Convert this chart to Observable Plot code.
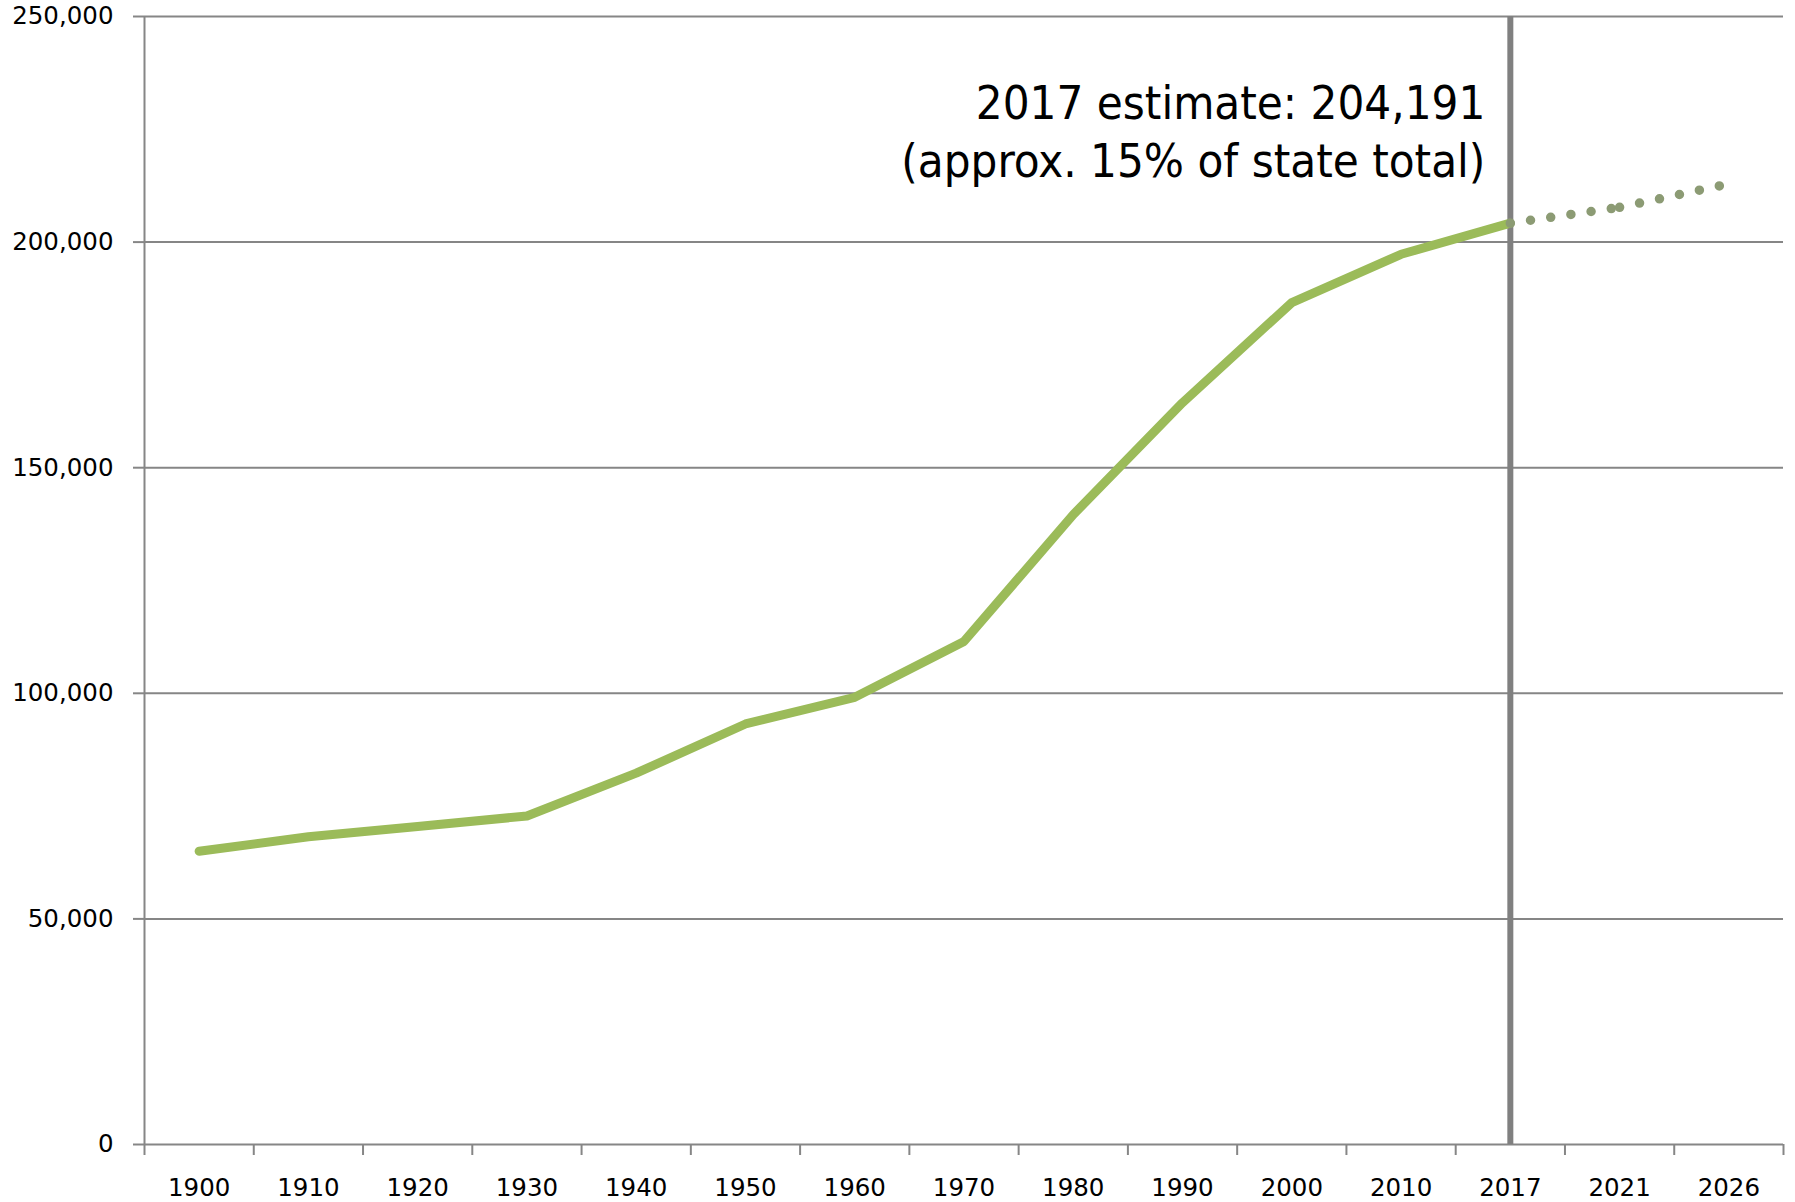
<!DOCTYPE html>
<html>
<head>
<meta charset="utf-8">
<script src="https://cdn.jsdelivr.net/npm/d3@7"></script>
<script src="https://cdn.jsdelivr.net/npm/@observablehq/plot@0.6"></script>
<style>
  html, body { margin: 0; padding: 0; background: #fff; overflow: hidden; }
  #chart svg { display: block; }
</style>
</head>
<body>
<div id="chart"></div>
<script>
// Category labels along the x axis
const years = ["1900","1910","1920","1930","1940","1950","1960","1970","1980","1990","2000","2010","2017","2021","2026"];
// Historical population (1900–2017)
const historicalYears = ["1900","1910","1920","1930","1940","1950","1960","1970","1980","1990","2000","2010","2017"];
const historicalValues = [65000, 68200, 70500, 72800, 82300, 93200, 99100, 111500, 139600, 164400, 186600, 197300, 204191];
// Projection (2017–2026)
const projectionYears = ["2017","2021","2026"];
const projectionValues = [204191, 207700, 212900];
// Y tick values
const yTicks = [0, 50000, 100000, 150000, 200000, 250000];
// Marker year and annotation
const markerYear = "2017";
const annotation = "2017 estimate: 204,191\n(approx. 15% of state total)";

const idx = y => years.indexOf(y);
const historical = historicalYears.map((y, i) => ({x: idx(y), value: historicalValues[i]}));
// Projection drawn segment by segment (dash pattern restarts at each point)
const projection = [];
for (let i = 0; i < projectionYears.length - 1; i++) {
  projection.push({x: idx(projectionYears[i]), value: projectionValues[i], seg: i});
  projection.push({x: idx(projectionYears[i + 1]), value: projectionValues[i + 1], seg: i});
}

const grey = "#868686";
const tickFont = "DejaVu Sans, Verdana, sans-serif";

const chart = Plot.plot({
  width: 1795,
  height: 1202,
  marginLeft: 144,
  marginRight: 12,
  marginTop: 16,
  marginBottom: 58,
  style: {background: "#fff", color: "#000", fontFamily: tickFont},
  x: {type: "linear", domain: [-0.5, years.length - 0.5], label: null},
  y: {domain: [0, 250000], label: null},
  marks: [
    Plot.gridY(yTicks.filter(d => d > 0), {stroke: grey, strokeOpacity: 1, strokeWidth: 2}),
    Plot.axisY({ticks: yTicks, tickSize: 11, tickPadding: 20, tickFormat: d3.format(","), label: null,
      stroke: grey, strokeWidth: 2, fill: "#000", fontSize: 24.5, fontFamily: tickFont}),
    Plot.axisX({ticks: d3.range(-0.5, years.length, 1), tickSize: 11, tickFormat: () => "", label: null,
      stroke: grey, strokeWidth: 2}),
    Plot.axisX({ticks: d3.range(years.length), tickSize: 0, tickPadding: 34, label: null,
      tickFormat: i => years[i], fill: "#000", fontSize: 24.5, fontFamily: tickFont}),
    Plot.ruleX([-0.5], {stroke: grey, strokeWidth: 2}),
    Plot.ruleY([0], {stroke: grey, strokeWidth: 2}),
    Plot.ruleX([idx(markerYear)], {y1: 0, y2: 250000, stroke: "#808080", strokeWidth: 6}),
    Plot.line(historical, {x: "x", y: "value", stroke: "#9BBB59", strokeWidth: 9,
      strokeLinecap: "round", strokeLinejoin: "round"}),
    Plot.line(projection, {x: "x", y: "value", z: "seg", stroke: "#8C9B74", strokeWidth: 9.5,
      strokeLinecap: "round", strokeDasharray: "0 20.4"}),
    Plot.text([annotation], {x: () => idx(markerYear), frameAnchor: "top", textAnchor: "end",
      lineAnchor: "top", dx: -25, dy: 62, fontSize: 47, lineHeight: 1.22,
      fontFamily: "Liberation Sans Narrow, DejaVu Sans Condensed, sans-serif", fill: "#000"})
  ]
});
document.getElementById("chart").append(chart);
</script>
</body>
</html>
